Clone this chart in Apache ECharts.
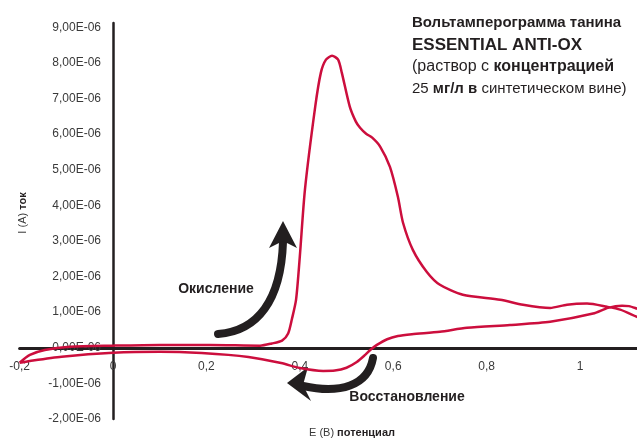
<!DOCTYPE html>
<html>
<head>
<meta charset="utf-8">
<script src="https://cdn.jsdelivr.net/npm/echarts@6/dist/echarts.min.js"></script>
<style>
  html, body { margin: 0; padding: 0; background: #ffffff; }
  #chart { width: 637px; height: 439px; }
</style>
</head>
<body>
<div id="chart"></div>
<script>
// Cyclic voltammogram of ESSENTIAL ANTI-OX tannin, 25 mg/L in synthetic wine.
// Potential E in volts, current I in microamperes (converted to amperes below).

// Anodic (forward) scan
const potentialForward = [
  -0.200, -0.178, -0.146, -0.092, 0.000, 0.100, 0.208, 0.315, 0.340, 0.362,
  0.375, 0.383, 0.392, 0.400, 0.411, 0.433, 0.445, 0.456, 0.469, 0.482,
  0.490, 0.507, 0.520, 0.529, 0.542, 0.555, 0.572, 0.593, 0.610, 0.621,
  0.642, 0.672, 0.700, 0.749, 0.829, 0.878, 0.936, 0.972, 1.015, 1.058,
  1.086, 1.122, 1.140
];
const currentForward = [
  -0.42, -0.20, -0.06, 0.03, 0.06, 0.08, 0.08, 0.06, 0.12, 0.20,
  0.40, 0.80, 1.35, 2.56, 4.44, 6.77, 7.72, 8.09, 8.20, 8.09,
  7.72, 6.77, 6.35, 6.18, 6.01, 5.90, 5.65, 5.08, 4.24, 3.51,
  2.75, 2.13, 1.77, 1.49, 1.35, 1.21, 1.12, 1.21, 1.24, 1.15,
  1.07, 0.87, 0.78
];

// Cathodic (reverse) scan
const potentialReverse = [
  1.140, 1.122, 1.105, 1.090, 1.060, 1.028, 0.936, 0.850, 0.758, 0.700,
  0.640, 0.610, 0.587, 0.565, 0.552, 0.540, 0.522, 0.500, 0.475, 0.450,
  0.400, 0.360, 0.290, 0.190, 0.100, 0.000, -0.110, -0.178, -0.200
];
const currentReverse = [
  1.02, 1.10, 1.17, 1.18, 1.12, 0.96, 0.73, 0.64, 0.56, 0.45,
  0.38, 0.33, 0.24, 0.08, -0.05, -0.20, -0.40, -0.56, -0.64, -0.65,
  -0.57, -0.43, -0.26, -0.15, -0.11, -0.14, -0.25, -0.37, -0.42
];

const MICRO = 1e-6;
const E_MIN = -0.2, E_MAX = 1.122;
const I_MIN = -2e-6, I_MAX = 9.12e-6;

const loop = [];
potentialForward.forEach((e, i) => loop.push([e, currentForward[i] * MICRO]));
potentialReverse.forEach((e, i) => loop.push([e, currentReverse[i] * MICRO]));

const FONT = '"Liberation Sans", Arial, sans-serif';
const INK = '#231f20';

// plot area
const GRID = { left: 19.6, right: 0, top: 23, bottom: 20 };
const W = 637, H = 439;
const plotW = W - GRID.left - GRID.right;
const plotH = H - GRID.top - GRID.bottom;
// shift each axis from the plot edge onto the other axis' zero
const yAxisShift = (0 - E_MIN) / (E_MAX - E_MIN) * plotW;
const xAxisShift = (0 - I_MIN) / (I_MAX - I_MIN) * plotH;

function fmtCurrent(v) {
  const n = Math.round(v / MICRO * 100) / 100;
  return n.toFixed(2).replace('.', ',') + 'E-06';
}
function fmtPotential(v) {
  const n = Math.round(v * 10) / 10;
  return String(n).replace('.', ',');
}

const chart = echarts.init(document.getElementById('chart'), null, { renderer: 'canvas' });

chart.setOption({
  animation: false,
  backgroundColor: '#ffffff',
  grid: {
    left: GRID.left, right: GRID.right, top: GRID.top, bottom: GRID.bottom,
    containLabel: false, outerBoundsMode: 'none'
  },
  xAxis: {
    type: 'value',
    min: E_MIN,
    max: E_MAX,
    interval: 0.2,
    offset: -xAxisShift,
    axisLine: { onZero: false, lineStyle: { color: INK, width: 3 } },
    axisTick: { show: false },
    splitLine: { show: false },
    axisLabel: {
      margin: 13,
      showMaxLabel: false,
      color: '#3a3a3a',
      fontSize: 12,
      fontFamily: FONT,
      formatter: fmtPotential
    }
  },
  yAxis: {
    type: 'value',
    min: I_MIN,
    max: I_MAX,
    interval: 1e-6,
    offset: -yAxisShift,
    axisLine: { onZero: false, lineStyle: { color: INK, width: 2.5 } },
    axisTick: { show: false },
    splitLine: { show: false },
    axisLabel: {
      margin: 12,
      showMaxLabel: false,
      color: '#3a3a3a',
      fontSize: 12,
      fontFamily: FONT,
      formatter: fmtCurrent
    }
  },
  series: [{
    type: 'line',
    data: loop,
    showSymbol: false,
    smooth: 0.25,
    clip: true,
    lineStyle: { color: '#cc0e3d', width: 2.5 },
    z: 3
  }],
  graphic: [
    // axis names
    {
      type: 'text', x: 23, y: 213, rotation: Math.PI / 2,
      style: {
        text: '{r|I (A) }{b|ток}',
        align: 'center', verticalAlign: 'middle',
        rich: {
          r: { fontFamily: FONT, fontSize: 11, fill: '#3a3a3a' },
          b: { fontFamily: FONT, fontSize: 11, fontWeight: 'bold', fill: INK }
        }
      }
    },
    {
      type: 'text', x: 352, y: 433,
      style: {
        text: '{r|E (B) }{b|потенциал}',
        align: 'center', verticalAlign: 'middle',
        rich: {
          r: { fontFamily: FONT, fontSize: 11, fill: '#3a3a3a' },
          b: { fontFamily: FONT, fontSize: 11, fontWeight: 'bold', fill: INK }
        }
      }
    },
    // title block
    {
      type: 'text', x: 412, y: 12,
      style: {
        text: '{b|Вольтамперограмма танина}\n{c|ESSENTIAL ANTI-OX}\n{r2|(раствор с }{b2|концентрацией}\n{r|25 }{b|мг/л в }{r|синтетическом вине)}',
        align: 'left', verticalAlign: 'top', lineHeight: 22,
        rich: {
          b: { fontFamily: FONT, fontSize: 15, fontWeight: 'bold', fill: INK, lineHeight: 22 },
          c: { fontFamily: FONT, fontSize: 17, fontWeight: 'bold', fill: INK, lineHeight: 22 },
          b2: { fontFamily: FONT, fontSize: 16, fontWeight: 'bold', fill: INK, lineHeight: 22 },
          r2: { fontFamily: FONT, fontSize: 16, fill: INK, lineHeight: 22 },
          r: { fontFamily: FONT, fontSize: 15, fill: INK, lineHeight: 22 }
        }
      }
    },
    // annotations
    {
      type: 'text', x: 216, y: 289,
      style: { text: 'Окисление', align: 'center', verticalAlign: 'middle',
        fontFamily: FONT, fontSize: 14, fontWeight: 'bold', fill: INK }
    },
    {
      type: 'text', x: 407, y: 397,
      style: { text: 'Восстановление', align: 'center', verticalAlign: 'middle',
        fontFamily: FONT, fontSize: 14, fontWeight: 'bold', fill: INK }
    },
    // oxidation arrow
    {
      type: 'bezierCurve',
      shape: { x1: 218, y1: 334, cpx1: 258, cpy1: 331, cpx2: 281, cpy2: 300, x2: 283, y2: 242 },
      style: { stroke: INK, lineWidth: 8, lineCap: 'round', fill: null }
    },
    {
      type: 'polygon',
      shape: { points: [[283, 221], [297, 248], [283, 241], [269, 248]] },
      style: { fill: INK }
    },
    // reduction arrow
    {
      type: 'bezierCurve',
      shape: { x1: 373, y1: 358, cpx1: 368, cpy1: 386, cpx2: 340, cpy2: 394, x2: 303, y2: 386 },
      style: { stroke: INK, lineWidth: 8, lineCap: 'round', fill: null }
    },
    {
      type: 'polygon',
      shape: { points: [[287, 383], [308, 367], [303, 385], [311, 401]] },
      style: { fill: INK }
    }
  ]
});
</script>
</body>
</html>
